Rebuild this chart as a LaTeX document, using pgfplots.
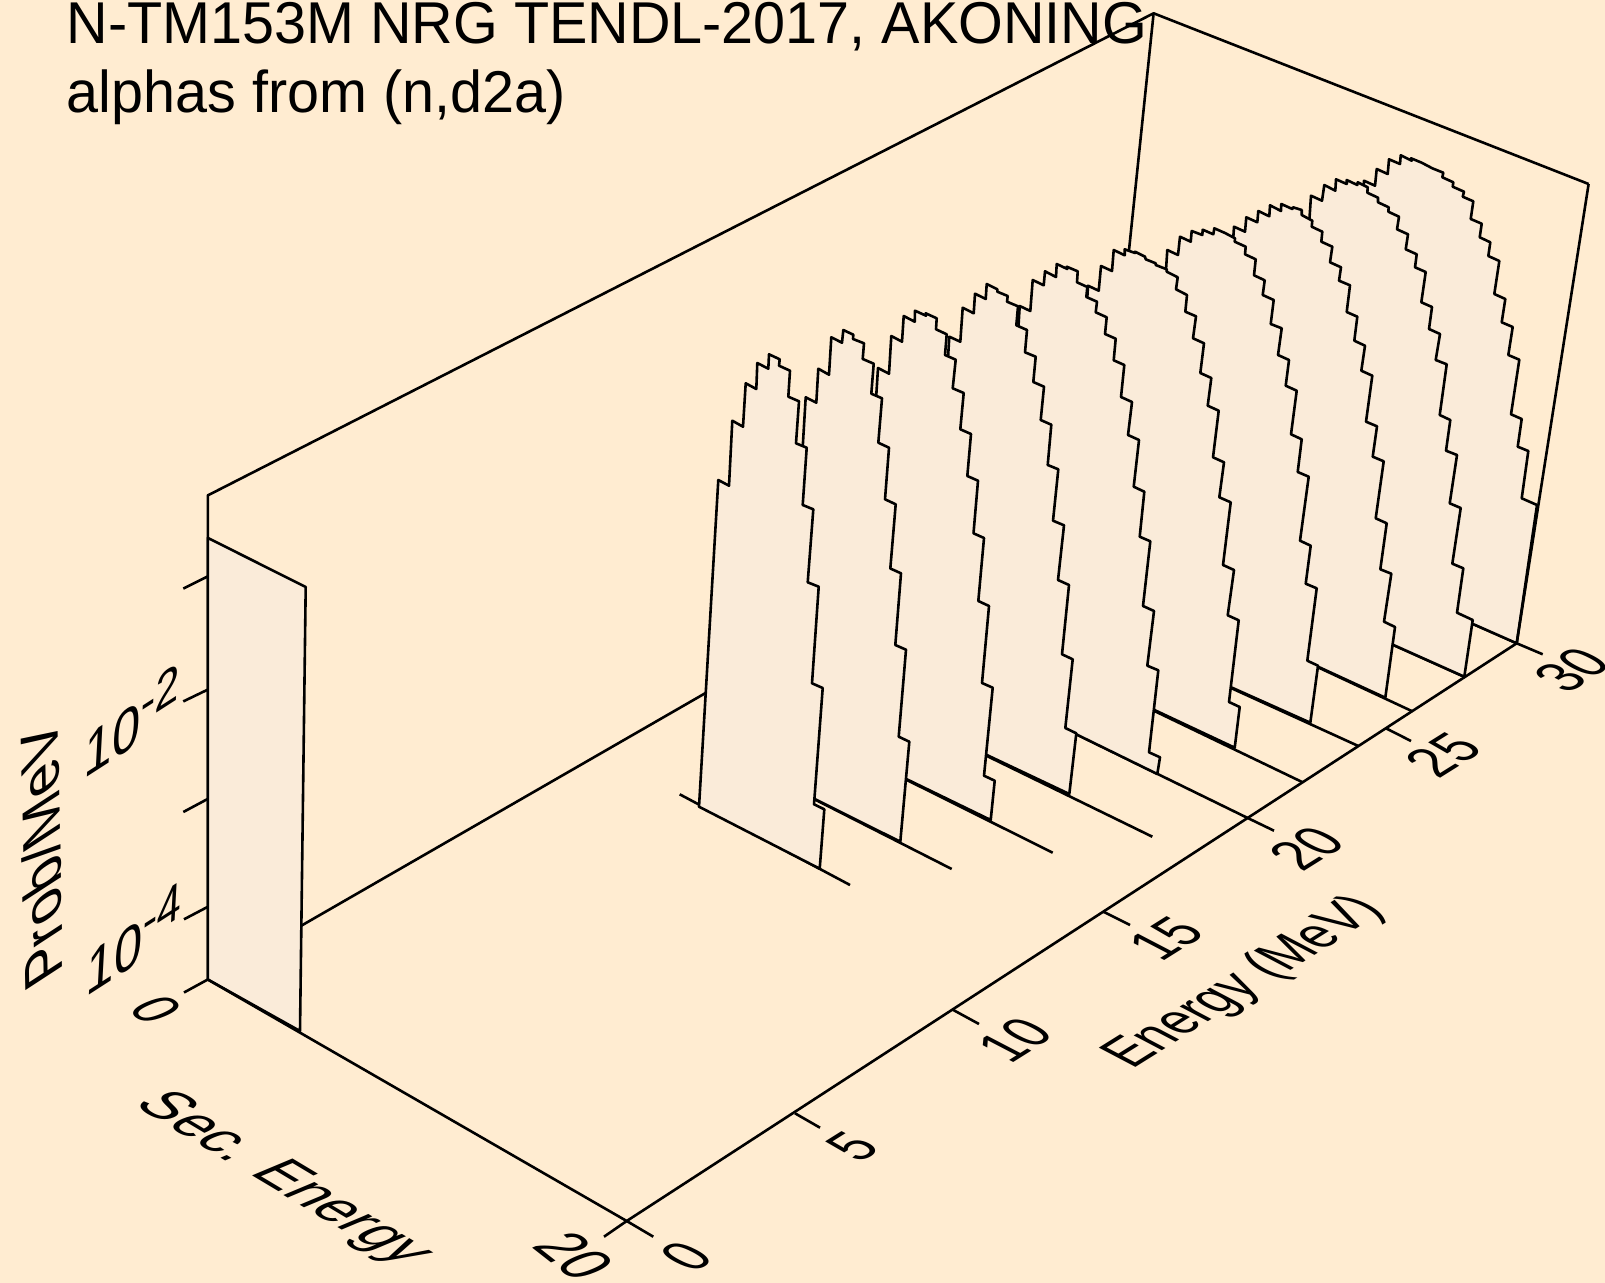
\documentclass[border=0pt]{standalone}
\usepackage{pgfplots}
\pgfplotsset{compat=1.18}
\usepackage{fontspec}
\setmainfont{Liberation Sans}
\definecolor{bgc}{HTML}{FFECD1}
\definecolor{slc}{HTML}{FAEBD9}
\pgfplotsset{
 fr/.style={black,line width=1.3pt,line join=round},
 sl/.style={draw=black,fill=slc,line width=1.3pt,line join=round}
}
\begin{document}
\begin{tikzpicture}[x=1pt,y=1pt]
\path[use as bounding box,clip] (0,0) rectangle (802.5pt,641.5pt);
\begin{axis}[at={(0,0)},anchor=south west,scale only axis,width=802.5pt,height=641.5pt,
 xmin=0,xmax=1605,ymin=0,ymax=1283,y dir=reverse,axis lines=none,clip=false]
\addplot[draw=none,fill=bgc] coordinates {(0,0)(1605,0)(1605,1283)(0,1283)} -- cycle;
% frame
\addplot[fr] coordinates {(207.8,979.5)(207.8,495.4)(1153.6,13.3)(1588.6,184)};
\addplot[fr] coordinates {(207.8,979.5)(1107,462)};
\addplot[fr] coordinates {(1153.6,13.3)(1107,462)};
% slice 10
\addplot[fr] coordinates {(1337,564)(1516.7,643.3)};
\addplot[sl] coordinates {(1337,564)(1364,180.7)(1375,185.7)(1376.7,169)(1387.7,174)(1389,159.3)(1400,164)(1400.7,155.3)(1411.7,160.7)(1411,158.3)(1421.7,162.7)(1432.3,168.3)(1443.3,172.7)(1442.3,177.3)(1453.3,182.3)(1452.7,186.7)(1464,191.7)(1462.7,196.7)(1473.3,201.3)(1470.7,219)(1481.7,223.7)(1479.7,237.3)(1490.3,242.3)(1488.3,256)(1499.3,261)(1494.3,294)(1505.3,299)(1501.7,322.3)(1512.7,327)(1508.3,355)(1519.3,359.7)(1511,414.3)(1521.7,419)(1517.7,446.7)(1528.3,451)(1521.7,498.3)(1537,505)(1516.7,643.3)} -- cycle;
% slice 9
\addplot[fr] coordinates {(1284,596)(1464,676.7)};
\addplot[sl] coordinates {(1284,596)(1311,195.7)(1322,200.7)(1324.3,185)(1335.3,190.7)(1336,179.3)(1346.7,184)(1346.7,180)(1357.3,185)(1357.7,182.3)(1367.7,187.3)(1367.3,192.7)(1378,197.7)(1378,202.3)(1388.7,207.3)(1388.3,211.7)(1399,216.7)(1397,229.3)(1408,234.3)(1405.7,249.3)(1416.7,254.3)(1415,267.3)(1425.7,272)(1421.3,302.3)(1432,307)(1429,329)(1440,334)(1435.7,360)(1446.7,364.3)(1439.7,415)(1450.3,420)(1446,450.7)(1457,455)(1449.7,503.3)(1460.7,508)(1452.3,563.7)(1463.3,568.3)(1457,612.7)(1472.7,620)(1464.3,676.7)} -- cycle;
% slice 8
\addplot[fr] coordinates {(1208,616)(1411.7,711)};
\addplot[sl] coordinates {(1208,616)(1234,226.7)(1245,231.7)(1246.3,217.3)(1257.3,222.3)(1258.3,211)(1269.3,216.3)(1270,205.3)(1281,211)(1281.3,204)(1292.3,209)(1293,207.3)(1301.7,210)(1301.7,215)(1312.3,220.7)(1311.7,226.7)(1322.3,231.7)(1321.3,241.7)(1332.3,246.7)(1330,262.3)(1341,267.3)(1339,280.7)(1350,285.3)(1346.7,312)(1357.3,316.7)(1354.3,340.7)(1365,345.7)(1361.3,370.7)(1372.3,375.7)(1366,421.7)(1377,426.3)(1372.7,456.7)(1383.7,461.3)(1375.7,518.3)(1386.7,523.3)(1380.3,569.3)(1391.3,573.7)(1384,621.7)(1395,627)(1385.3,697.7)} -- cycle;
% slice 7
\addplot[fr] coordinates {(1141,647)(1358.3,746)};
\addplot[sl] coordinates {(1141,647)(1167.3,250)(1178,255)(1180,236.7)(1190.7,241.7)(1191.7,231)(1202.3,235)(1202.7,229.7)(1213.3,234.3)(1214.3,228.3)(1225,233)(1235,238.3)(1234.7,241.7)(1245.7,246.7)(1245,254.3)(1255.7,259.3)(1254,275.3)(1264.7,280.3)(1262.7,295)(1273.7,300)(1270.7,324)(1281.7,328.3)(1278,355)(1289,360)(1285.7,385.7)(1296.7,390.7)(1291,434.3)(1301.7,439.3)(1297.7,472)(1308.7,476.7)(1300,540.7)(1310.7,545.7)(1305.7,583.7)(1316.7,588.3)(1307.3,660.7)(1318,665.7)(1310.3,722.7)} -- cycle;
% slice 6
\addplot[fr] coordinates {(1065,668)(1302.7,782.3)};
\addplot[sl] coordinates {(1065,668)(1088,285.7)(1098.7,290.7)(1101,266)(1112,271)(1113.7,250)(1124.7,255.3)(1124.7,249.3)(1135,253)(1135,251.7)(1145,256.7)(1145.7,259.3)(1155.7,263.3)(1155.7,265)(1166.7,269.3)(1166.7,271.7)(1177.7,277.3)(1176,289.3)(1187,295)(1185.3,311.7)(1196,316.3)(1193,338.3)(1204,343.3)(1200.3,373)(1211.3,378)(1207.7,405.7)(1218.7,410.7)(1213,457.3)(1224,462.3)(1219.3,497.3)(1230.7,502.3)(1223,565)(1234,570)(1227.7,615.3)(1238.7,620.3)(1229,702)(1239.7,707)(1234.7,747.7)} -- cycle;
% slice 5
\addplot[fr] coordinates {(996,695)(1248.3,818.3)};
\addplot[sl] coordinates {(996,695)(1019.7,306)(1030.3,311)(1032.7,280)(1043.7,285.3)(1045,271.3)(1056,277)(1056.7,264)(1067.3,269)(1066.7,266.7)(1077.7,271.3)(1077,282.3)(1087.3,287)(1086.3,297)(1097,301.7)(1095.7,312.3)(1106.7,317.3)(1105,334)(1115.7,338.7)(1113.7,360.3)(1124.3,365)(1121,397)(1132,402)(1128,435)(1139,440)(1133.7,486.7)(1144.3,491.7)(1139.7,536.7)(1150.3,541.3)(1143,606)(1154,611)(1147.3,665.7)(1158.3,670.3)(1149,752.3)(1160,757.3)(1157.3,774)} -- cycle;
% slice 4
\addplot[fr] coordinates {(925.5,726)(1152.3,836.7)};
\addplot[sl] coordinates {(925.5,726)(949.3,336.7)(960.3,341.7)(962.7,307.7)(973.7,313.3)(975,293.7)(985.7,299)(986.7,284)(997.3,289.3)(997.3,291.7)(1007.7,296)(1007,301.7)(1018,306.3)(1016.3,325.3)(1027,330)(1025,352.3)(1035.7,356.7)(1033.3,382)(1044,386.7)(1040.7,420)(1051.3,424.7)(1047.7,465)(1058.3,469.3)(1053,520.7)(1064,525.3)(1058,580)(1069,585)(1062,654.3)(1072.7,659.3)(1065.3,728)(1076.3,733.3)(1069.3,794)} -- cycle;
% slice 3
\addplot[fr] coordinates {(853.5,753.4)(1052.7,852.7)};
\addplot[sl] coordinates {(853.5,753.4)(878,368)(889,373.7)(891.3,336)(902,341.7)(903.7,316)(914.7,321.7)(915,310.7)(926,315.7)(925.7,313.3)(936.7,318.3)(936,329.3)(946.7,334.3)(945,355)(955.7,359.7)(952.7,388.3)(963.7,393)(960.3,429.3)(971,434)(967.3,476)(978,480.7)(973.5,533.3)(984,538)(978.3,601)(989,606)(982,683)(992.7,687.7)(984,775.7)(994.7,780.7)(990.7,820)} -- cycle;
% slice 2
\addplot[fr] coordinates {(782.5,783)(951.7,869)};
\addplot[sl] coordinates {(782.5,783)(805.7,397.3)(816.3,402.7)(818.3,368.7)(829,374.7)(831.3,337.3)(842,342.7)(843.3,330)(853.3,334.7)(853,339)(864,343.3)(862.7,359)(873.7,363.7)(871.3,393.7)(882,398.3)(878.3,442.7)(889,447.7)(885,499.3)(895.7,504.3)(890.3,568.5)(901,573.3)(895.3,645)(906,649.7)(898.7,736.7)(909.3,741.7)(900.3,841.7)} -- cycle;
% slice 1
\addplot[fr] coordinates {(679.7,794.3)(850,885)};
\addplot[sl] coordinates {(699,806.7)(718.3,480)(729,485.7)(732.3,420.7)(743,426.7)(745.7,383.3)(756.3,389)(757.3,363)(768.3,368.7)(769,354.3)(779.7,359.3)(779,365.7)(790,370.7)(788.3,396.7)(799,401.3)(796,443.3)(806.7,447.7)(802.7,505)(813.3,509.3)(807.7,582.3)(818.7,586.7)(812,683.3)(822.7,688)(814,804.3)(824.3,809.3)(819.7,868.7)} -- cycle;
% box at low energy
\addplot[sl] coordinates {(207.8,979.5)(207.8,537.9)(305.7,587)(300,1031)} -- cycle;
% right vertical, front axes
\addplot[fr] coordinates {(1588.6,184)(1516.7,643.3)};
\addplot[fr] coordinates {(604,1236.7)(626.7,1221)(1516.7,643.3)(1542.7,654.3)};
\addplot[fr] coordinates {(207.8,979.5)(626.7,1221)(653.3,1236.7)};
% ticks
\addplot[fr] coordinates {(795,1113.3)(820,1127.7)};
\addplot[fr] coordinates {(953.3,1010)(979,1024)};
\addplot[fr] coordinates {(1103.3,911.7)(1130,925)};
\addplot[fr] coordinates {(1248.3,818.3)(1274,830.7)};
\addplot[fr] coordinates {(1386,728.3)(1411,741)};
\addplot[fr] coordinates {(207.8,576.4)(183.3,588.6)};
\addplot[fr] coordinates {(207.8,689.6)(183.3,701.4)};
\addplot[fr] coordinates {(207.8,798.9)(183.3,812)};
\addplot[fr] coordinates {(207.8,906.8)(184,919.3)};
\addplot[fr] coordinates {(207.8,979.5)(184,992.5)};
% text
\node[anchor=base west,inner sep=0,font=\fontsize{29.5pt}{30pt}\selectfont,cm={0.975,0,0,1,(0,0)}] at (axis cs:66.5,43.3) {N-TM153M NRG TENDL-2017, AKONING};
\node[anchor=base west,inner sep=0,font=\fontsize{29.5pt}{30pt}\selectfont,cm={0.975,0,0,1,(0,0)}] at (axis cs:66.5,112.7) {alphas from (n,d2a)};
% energy axis labels
\foreach \x/\y/\t in {686.7/1256.7/0,852.7/1146.5/5,1015/1040/10,1166/938.5/15,1306.7/848.3/20,1443.3/755/25,1572/670/30}{
 \edef\temp{\noexpand\node[inner sep=0,font=\noexpand\fontsize{28pt}{30pt}\noexpand\selectfont,cm={0.75,0.47,-0.97,0.505,(0,0)}] at (axis cs:\x,\y) {\t};}\temp
}
\node[inner sep=0,font=\fontsize{28pt}{30pt}\selectfont,cm={0.733,0.458,-0.95,0.5,(0,0)}] at (axis cs:1245,983) {Energy (MeV)};
% secondary-energy labels
\node[inner sep=0,font=\fontsize{28pt}{30pt}\selectfont,cm={0.67,-0.53,1.0,0.42,(0,0)}] at (axis cs:156,1010) {0};
\node[inner sep=0,font=\fontsize{28pt}{30pt}\selectfont,cm={0.74,-0.58,1.08,0.45,(0,0)}] at (axis cs:574,1256) {20};
\node[inner sep=0,font=\fontsize{28pt}{30pt}\selectfont,cm={0.87,-0.52,1.05,0.44,(0,0)}] at (axis cs:282,1179.5) {Sec. Energy};
% vertical labels
\node[anchor=base west,inner sep=0,font=\fontsize{28pt}{30pt}\selectfont,cm={0.9,0.58,0.06,1.12,(0,0)}] at (axis cs:83,780) {10\raisebox{9pt}{\fontsize{24pt}{26pt}\selectfont -2}};
\node[anchor=base west,inner sep=0,font=\fontsize{28pt}{30pt}\selectfont,cm={0.9,0.58,0.06,1.12,(0,0)}] at (axis cs:85,998) {10\raisebox{9pt}{\fontsize{24pt}{26pt}\selectfont -4}};
\node[anchor=base west,inner sep=0,font=\fontsize{28pt}{30pt}\selectfont,cm={-0.02,1.03,-0.95,-0.62,(0,0)}] at (axis cs:63,972) {Prob/MeV};
\end{axis}
\end{tikzpicture}
\end{document}
